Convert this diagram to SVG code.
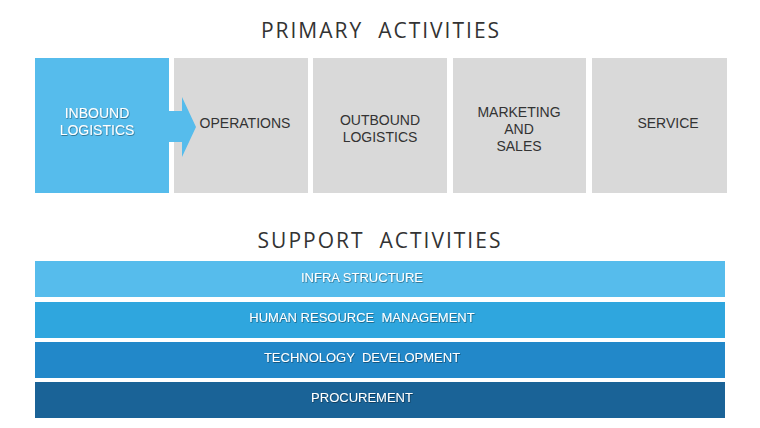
<svg xmlns="http://www.w3.org/2000/svg" width="760" height="428" viewBox="0 0 760 428">
<defs>
<filter id="sh" x="-10%" y="-30%" width="120%" height="160%">
<feDropShadow dx="0.6" dy="0.8" stdDeviation="0.4" flood-color="#000" flood-opacity="0.45"/>
</filter>
</defs>
<style>
.title{font-family:"Open Sans","Liberation Sans",sans-serif;font-size:21px;fill:#333;text-anchor:middle;letter-spacing:2px}
.gray{fill:#d9d9d9}
.dt{font-family:"Liberation Sans",Arial,sans-serif;font-size:14px;fill:#333;text-anchor:middle}
.wt{font-family:"Liberation Sans",Arial,sans-serif;font-size:14px;fill:#fff;text-anchor:middle;filter:url(#sh)}
.bt{font-family:"Liberation Sans",Arial,sans-serif;font-size:13px;fill:#fff;text-anchor:middle;filter:url(#sh)}
</style>
<rect width="760" height="428" fill="#fff"/>
<text class="title" x="381" y="38" xml:space="preserve">PRIMARY  ACTIVITIES</text>
<text class="title" x="380" y="248" xml:space="preserve">SUPPORT  ACTIVITIES</text>

<g id="operations">
<rect class="gray" x="174" y="58" width="134" height="135"/>
<text class="dt" x="245" y="128">OPERATIONS</text>
</g>
<g id="outbound-logistics">
<rect class="gray" x="313" y="58" width="134" height="135"/>
<text class="dt" x="380" y="125">OUTBOUND</text>
<text class="dt" x="380" y="142">LOGISTICS</text>
</g>
<g id="marketing-and-sales">
<rect class="gray" x="453" y="58" width="133" height="135"/>
<text class="dt" x="519" y="117">MARKETING</text>
<text class="dt" x="519" y="134">AND</text>
<text class="dt" x="519" y="151">SALES</text>
</g>
<g id="service">
<rect class="gray" x="592" y="58" width="135" height="135"/>
<text class="dt" x="668" y="128">SERVICE</text>
</g>
<g id="inbound-logistics">
<rect x="35" y="58" width="134" height="135" fill="#56bcec"/>
<text class="wt" x="97" y="118">INBOUND</text>
<text class="wt" x="97" y="135">LOGISTICS</text>
</g>
<g id="connectors">
<polygon points="169,111 182,111 182,97 196,127 182,157 182,142 169,142" fill="#56bcec"/>
</g>

<g id="infra-structure">
<rect x="35" y="261" width="690" height="36" fill="#56bcec"/>
<text class="bt" x="362" y="282">INFRA STRUCTURE</text>
</g>
<g id="human-resource-management">
<rect x="35" y="302" width="690" height="36" fill="#2fa6de"/>
<text class="bt" x="362" y="322" xml:space="preserve">HUMAN RESOURCE  MANAGEMENT</text>
</g>
<g id="technology-development">
<rect x="35" y="342" width="690" height="36" fill="#2288c9"/>
<text class="bt" x="362" y="362" xml:space="preserve">TECHNOLOGY  DEVELOPMENT</text>
</g>
<g id="procurement">
<rect x="35" y="382" width="690" height="36" fill="#1a6397"/>
<text class="bt" x="362" y="402">PROCUREMENT</text>
</g>
</svg>
